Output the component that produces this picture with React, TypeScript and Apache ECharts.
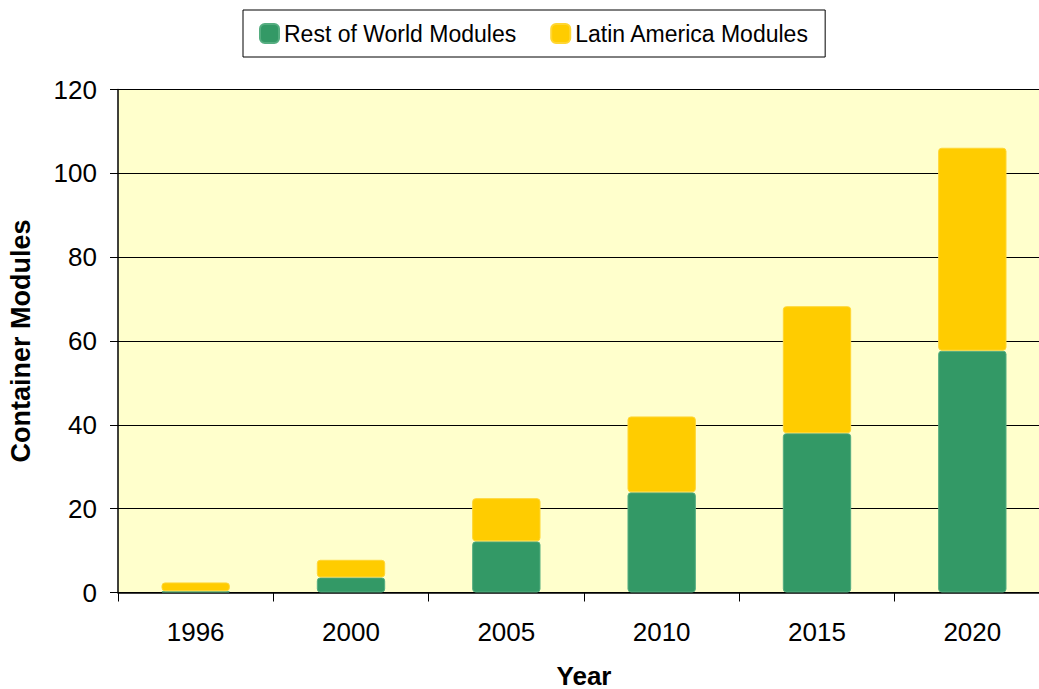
import React, { useEffect, useRef } from "react";
import * as echarts from "echarts";

const years = ["1996", "2000", "2005", "2010", "2015", "2020"];
const restOfWorld = [0.3, 3.6, 12.2, 23.9, 38.0, 57.7];
const latinAmerica = [2.1, 4.2, 10.3, 18.1, 30.3, 48.4];
const seriesNames = ["Rest of World Modules", "Latin America Modules"];

const FONT = "Liberation Sans, Arial, sans-serif";

export default function App() {
  const ref = useRef<HTMLDivElement>(null);

  useEffect(() => {
    if (!ref.current) return;
    const chart = echarts.init(ref.current, undefined, { renderer: "svg" });
    chart.setOption({
      animation: false,
      textStyle: { fontFamily: FONT },
      legend: {
        data: seriesNames,
        left: 243,
        top: 10,
        padding: [12, 16, 12, 16],
        itemGap: 34,
        itemWidth: 19,
        itemHeight: 19,
        icon: "roundRect",
        borderColor: "#000",
        borderWidth: 1,
        backgroundColor: "#fff",
        textStyle: { fontSize: 23, color: "#000", fontFamily: FONT },
      },
      grid: {
        left: 118,
        top: 89.5,
        width: 932,
        height: 503,
        show: true,
        backgroundColor: "#FFFFCC",
        borderWidth: 0,
        outerBoundsMode: "none",
        containLabel: false,
      },
      xAxis: {
        type: "category",
        data: years,
        name: "Year",
        nameLocation: "middle",
        nameGap: 70,
        nameTextStyle: { fontSize: 26, fontWeight: "bold", color: "#000", fontFamily: FONT },
        axisLine: { lineStyle: { color: "#000", width: 1.5 } },
        axisTick: { show: true, length: 9, lineStyle: { color: "#000" } },
        axisLabel: { fontSize: 26, color: "#000", margin: 26, fontFamily: FONT },
      },
      yAxis: {
        type: "value",
        min: 0,
        max: 120,
        interval: 20,
        name: "Container Modules",
        nameLocation: "middle",
        nameRotate: 90,
        nameGap: 84,
        nameTextStyle: { fontSize: 27, fontWeight: "bold", color: "#000", fontFamily: FONT },
        axisLine: { show: true, lineStyle: { color: "#000", width: 1.5 } },
        axisTick: { show: true, length: 8, lineStyle: { color: "#000" } },
        axisLabel: { fontSize: 26, color: "#000", margin: 21, fontFamily: FONT },
        splitLine: { show: true, lineStyle: { color: "#000", width: 1 } },
      },
      series: [
        {
          name: seriesNames[0],
          type: "bar",
          stack: "total",
          data: restOfWorld,
          barWidth: "44%",
          itemStyle: { color: "#339966", borderRadius: 3, borderColor: "#55ad80", borderWidth: 1 },
        },
        {
          name: seriesNames[1],
          type: "bar",
          stack: "total",
          data: latinAmerica,
          barWidth: "44%",
          itemStyle: { color: "#FFCC00", borderRadius: 3, borderColor: "#ffd633", borderWidth: 1 },
        },
      ],
    });
    return () => chart.dispose();
  }, []);

  return (
    <div
      ref={ref}
      style={{ position: "fixed", left: 0, top: 0, width: 1039, height: 689, background: "#fff" }}
    />
  );
}
